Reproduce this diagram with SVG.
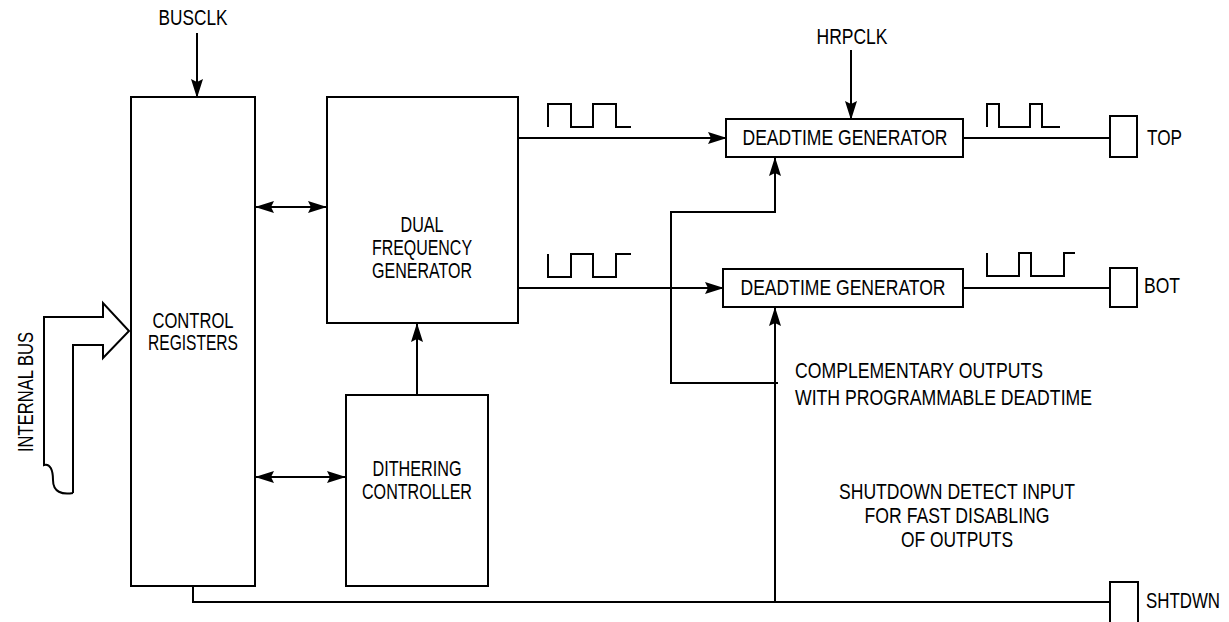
<svg xmlns="http://www.w3.org/2000/svg" width="1229" height="622" viewBox="0 0 1229 622">
<style>
.box{fill:#fff;stroke:#000;stroke-width:2}
.ln{fill:none;stroke:#000;stroke-width:2}
.ar{fill:none;stroke:#000;stroke-width:2;marker-end:url(#ah)}
.dar{fill:none;stroke:#000;stroke-width:2;marker-end:url(#ah);marker-start:url(#ahs)}
text{font-family:"Liberation Sans Narrow","Liberation Sans",Arial,sans-serif;font-size:21.5px;fill:#000}
.c{text-anchor:middle}
</style>
<defs>
<marker id="ah" markerUnits="userSpaceOnUse" markerWidth="19" markerHeight="12" refX="18" refY="6" orient="auto"><path d="M0,0 L19,6 L0,12 L3,6 Z" fill="#000"/></marker>
<marker id="ahs" markerUnits="userSpaceOnUse" markerWidth="19" markerHeight="12" refX="18" refY="6" orient="auto-start-reverse"><path d="M0,0 L19,6 L0,12 L3,6 Z" fill="#000"/></marker>
</defs>
<rect width="1229" height="622" fill="#fff"/>
<g id="connectors">
<path class="ar" d="M197,33 V97"/>
<path class="ar" d="M851,50 V119"/>
<path class="dar" d="M256,207 H326"/>
<path class="dar" d="M256,477 H345"/>
<path class="ar" d="M417,395 V324"/>
<path class="ar" d="M518,138 H726"/>
<path class="ar" d="M518,288 H723"/>
<path class="ar" d="M778,383 H671 V212 H775 V158"/>
<path class="ln" d="M193,586 V602 H1110"/>
<path class="ar" d="M775,602 V308"/>
<path class="ln" d="M963,138 H1110"/>
<path class="ln" d="M963,288 H1110"/>
<path class="ln" d="M548,127 V104 H571 V127 H593 V104 H616 V127 H631"/>
<path class="ln" d="M548,254 V277 H571 V254 H593 V277 H616 V254 H631"/>
<path class="ln" d="M987,127 V104 H999 V127 H1030 V104 H1042 V127 H1060"/>
<path class="ln" d="M987,253 V276 H1019 V253 H1031 V276 H1064 V253 H1075"/>
</g>
<g id="internal-bus">
<path class="ln" d="M73,493 V345 H103 V358 L129,331 L103,303 V317 H44 V465 C50,463 53,470 53,480 C53,492 62,495 73,493"/>
<text transform="translate(33,392) rotate(-90)" class="c" textLength="120" lengthAdjust="spacingAndGlyphs">INTERNAL BUS</text>
</g>
<g id="busclk"><text x="193" y="25" class="c" textLength="69" lengthAdjust="spacingAndGlyphs">BUSCLK</text></g>
<g id="hrpclk"><text x="852" y="44" class="c" textLength="71" lengthAdjust="spacingAndGlyphs">HRPCLK</text></g>
<g id="control-registers">
<rect class="box" x="131" y="97" width="124" height="489"/>
<text x="193" y="328" class="c" textLength="81" lengthAdjust="spacingAndGlyphs">CONTROL</text>
<text x="193" y="350" class="c" textLength="90" lengthAdjust="spacingAndGlyphs">REGISTERS</text>
</g>
<g id="dual-frequency-generator">
<rect class="box" x="327" y="97" width="191" height="226"/>
<text x="422" y="232" class="c" textLength="43" lengthAdjust="spacingAndGlyphs">DUAL</text>
<text x="422" y="255" class="c" textLength="100" lengthAdjust="spacingAndGlyphs">FREQUENCY</text>
<text x="422" y="278" class="c" textLength="100" lengthAdjust="spacingAndGlyphs">GENERATOR</text>
</g>
<g id="dithering-controller">
<rect class="box" x="346" y="395" width="142" height="191"/>
<text x="417" y="476" class="c" textLength="89" lengthAdjust="spacingAndGlyphs">DITHERING</text>
<text x="417" y="499" class="c" textLength="110" lengthAdjust="spacingAndGlyphs">CONTROLLER</text>
</g>
<g id="deadtime-top">
<rect class="box" x="726" y="119" width="237" height="38"/>
<text x="845" y="145" class="c" textLength="205" lengthAdjust="spacingAndGlyphs">DEADTIME GENERATOR</text>
</g>
<g id="deadtime-bot">
<rect class="box" x="723" y="269" width="240" height="38"/>
<text x="843" y="295" class="c" textLength="205" lengthAdjust="spacingAndGlyphs">DEADTIME GENERATOR</text>
</g>
<g id="pin-top">
<rect class="box" x="1110" y="116" width="27" height="41"/>
<text x="1147" y="145" textLength="35" lengthAdjust="spacingAndGlyphs">TOP</text>
</g>
<g id="pin-bot">
<rect class="box" x="1110" y="268" width="27" height="39"/>
<text x="1144" y="293" textLength="36" lengthAdjust="spacingAndGlyphs">BOT</text>
</g>
<g id="pin-shtdwn">
<rect class="box" x="1110" y="582" width="28" height="45"/>
<text x="1146" y="608" textLength="74" lengthAdjust="spacingAndGlyphs">SHTDWN</text>
</g>
<g id="note-complementary">
<text x="795" y="378" textLength="248" lengthAdjust="spacingAndGlyphs">COMPLEMENTARY OUTPUTS</text>
<text x="795" y="405" textLength="297" lengthAdjust="spacingAndGlyphs">WITH PROGRAMMABLE DEADTIME</text>
</g>
<g id="note-shutdown">
<text x="957" y="499" class="c" textLength="236" lengthAdjust="spacingAndGlyphs">SHUTDOWN DETECT INPUT</text>
<text x="957" y="523" class="c" textLength="185" lengthAdjust="spacingAndGlyphs">FOR FAST DISABLING</text>
<text x="957" y="547" class="c" textLength="112" lengthAdjust="spacingAndGlyphs">OF OUTPUTS</text>
</g>
</svg>
